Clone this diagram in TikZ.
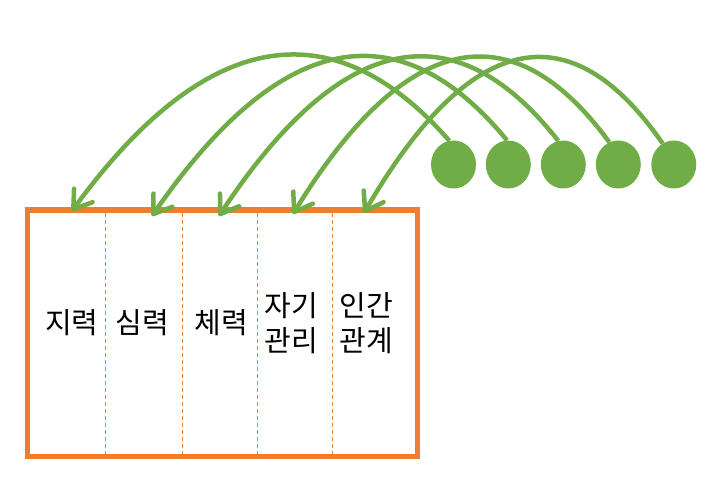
\documentclass[tikz,border=0pt]{standalone}
\usepackage{fontspec}
\newfontfamily\kofont{Noto Sans CJK KR}
\usepackage{tikz}
\usetikzlibrary{arrows.meta}
\definecolor{cFrame}{HTML}{ED7D31}
\definecolor{cLink} {HTML}{70AD47}
\tikzset{
  frame/.style={draw=cFrame,line width=5.5pt},
  sep/.style  ={draw=cFrame,line width=0.9pt,dash pattern=on 4pt off 3pt},
  dot/.style  ={ellipse,fill=cLink,minimum width=45pt,minimum height=48pt,inner sep=0pt},
  lbl/.style  ={font=\kofont\fontsize{29pt}{35pt}\selectfont,align=center,inner sep=0pt},
  link/.style ={draw=cLink,line width=4.5pt,
                -{Straight Barb[length=17pt,width=23pt,round]}},
}
\usetikzlibrary{shapes.geometric}

\begin{document}
\begin{tikzpicture}[x=1pt,y=-1pt]
  \useasboundingbox (0,0) rectangle (719,494);
  \draw[frame] (27.5,210) rectangle (417.5,456.5);
  \foreach \x in {105.7,182.7,257.7,332.3}
    \draw[sep] (\x,213) -- (\x,453.5);
  \node[lbl] (l1) at (71.7,323) {지력};
  \node[lbl] (l2) at (142.5,323) {심력};
  \node[lbl] (l3) at (221,323) {체력};
  \node[lbl] (l4) at (291,323) {자기\\관리};
  \node[lbl] (l5) at (366,323) {인간\\관계};
  \foreach \i/\x in {1/453.5,2/508.3,3/563.3,4/618.3,5/673.8}
    \node[dot] (c\i) at (\x,164.5) {};
  \coordinate (t1) at (72,211);
  \coordinate (t2) at (152,216);
  \coordinate (t3) at (219,216);
  \coordinate (t4) at (293,214);
  \coordinate (t5) at (364,213);
  \foreach \i/\a/\p/\q in {1/100/-134/113,2/93/-126/107,3/102/-120/102,
                           4/112/-112/95,5/118/-106/90}
    \draw[link] (c\i.\a) .. controls +(\p,-153) and +(\q,-155) .. (t\i);
\end{tikzpicture}
\end{document}
